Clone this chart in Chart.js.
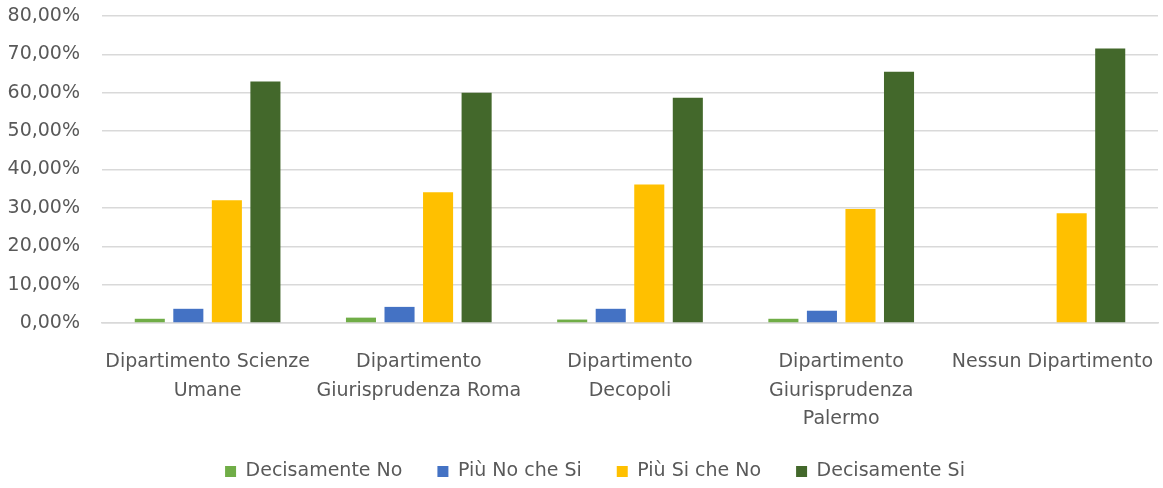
<!DOCTYPE html>
<html>
<head>
<meta charset="utf-8">
<script src="https://cdn.jsdelivr.net/npm/chart.js@4/dist/chart.umd.min.js"></script>
<style>
  html, body { margin: 0; padding: 0; background: #fff; }
  #wrap { width: 1163px; height: 488px; }
</style>
</head>
<body>
<div id="wrap"><canvas id="myChart"></canvas></div>
<script>
const categories = [
  ['Dipartimento Scienze', 'Umane'],
  ['Dipartimento', 'Giurisprudenza Roma'],
  ['Dipartimento', 'Decopoli'],
  ['Dipartimento', 'Giurisprudenza', 'Palermo'],
  'Nessun Dipartimento'
];
const decisamenteNo = [1.1, 1.4, 0.9, 1.1, 0];
const piuNoCheSi = [3.7, 4.2, 3.7, 3.2, 0];
const piuSiCheNo = [32.0, 34.1, 36.1, 29.7, 28.6];
const decisamenteSi = [62.9, 60.0, 58.7, 65.5, 71.5];
const yTicks = [0, 10, 20, 30, 40, 50, 60, 70, 80];

const fontFamily = '"DejaVu Sans", sans-serif';
const textColor = '#595959';

// keep the legend close under the axis labels, nudged a bit right
const legendHeight = {
  id: 'legendHeight',
  beforeLayout(chart) {
    const lg = chart.legend;
    if (!lg || lg._fixedFit) return;
    const fit = lg.fit;
    lg.fit = function () { fit.call(this); this.height = 61; };
    lg._fixedFit = true;
  },
  afterLayout(chart) {
    const lg = chart.legend;
    if (!lg) return;
    lg.left += 16;
    lg.right += 16;
  }
};

const data = {
  labels: categories,
  datasets: [
    { label: 'Decisamente No', data: decisamenteNo, backgroundColor: '#70ad47' },
    { label: 'Più No che Si', data: piuNoCheSi, backgroundColor: '#4472c4' },
    { label: 'Più Si che No', data: piuSiCheNo, backgroundColor: '#ffc000' },
    { label: 'Decisamente Si', data: decisamenteSi, backgroundColor: '#43682b' }
  ]
};

const config = {
  type: 'bar',
  data: data,
  plugins: [legendHeight],
  options: {
    responsive: true,
    maintainAspectRatio: false,
    animation: false,
    categoryPercentage: 0.73,
    barPercentage: 0.78,
    layout: { padding: { left: 0, right: 5, top: 0, bottom: 0 } },
    scales: {
      x: {
        clip: false,
        afterFit: (axis) => { axis.height = 104; axis.paddingLeft = 0; axis.paddingRight = 0; },
        grid: { display: false },
        border: { color: '#d9d9d9', width: 1.5 },
        ticks: {
          color: textColor,
          font: { family: fontFamily, size: 19, lineHeight: 1.5 },
          maxRotation: 0,
          autoSkip: false,
          padding: 17
        }
      },
      y: {
        min: 0,
        max: 80,
        afterBuildTicks: (axis) => { axis.ticks = yTicks.map(v => ({ value: v })); },
        afterFit: (axis) => { axis.width = 102; axis.paddingTop = 16; axis.paddingBottom = 10; },
        grid: { color: '#d9d9d9', lineWidth: 1.5, drawTicks: false },
        border: { display: false },
        ticks: {
          color: textColor,
          font: { family: fontFamily, size: 19 },
          padding: 22,
          callback: (v) => v.toFixed(2).replace('.', ',') + '%'
        }
      }
    },
    plugins: {
      legend: {
        position: 'bottom',
        labels: {
          color: textColor,
          font: { family: fontFamily, size: 19 },
          boxWidth: 11,
          boxHeight: 11,
          padding: 35,
          useBorderRadius: false
        }
      },
      tooltip: { enabled: false }
    }
  }
};

new Chart(document.getElementById('myChart'), config);
</script>
</body>
</html>
